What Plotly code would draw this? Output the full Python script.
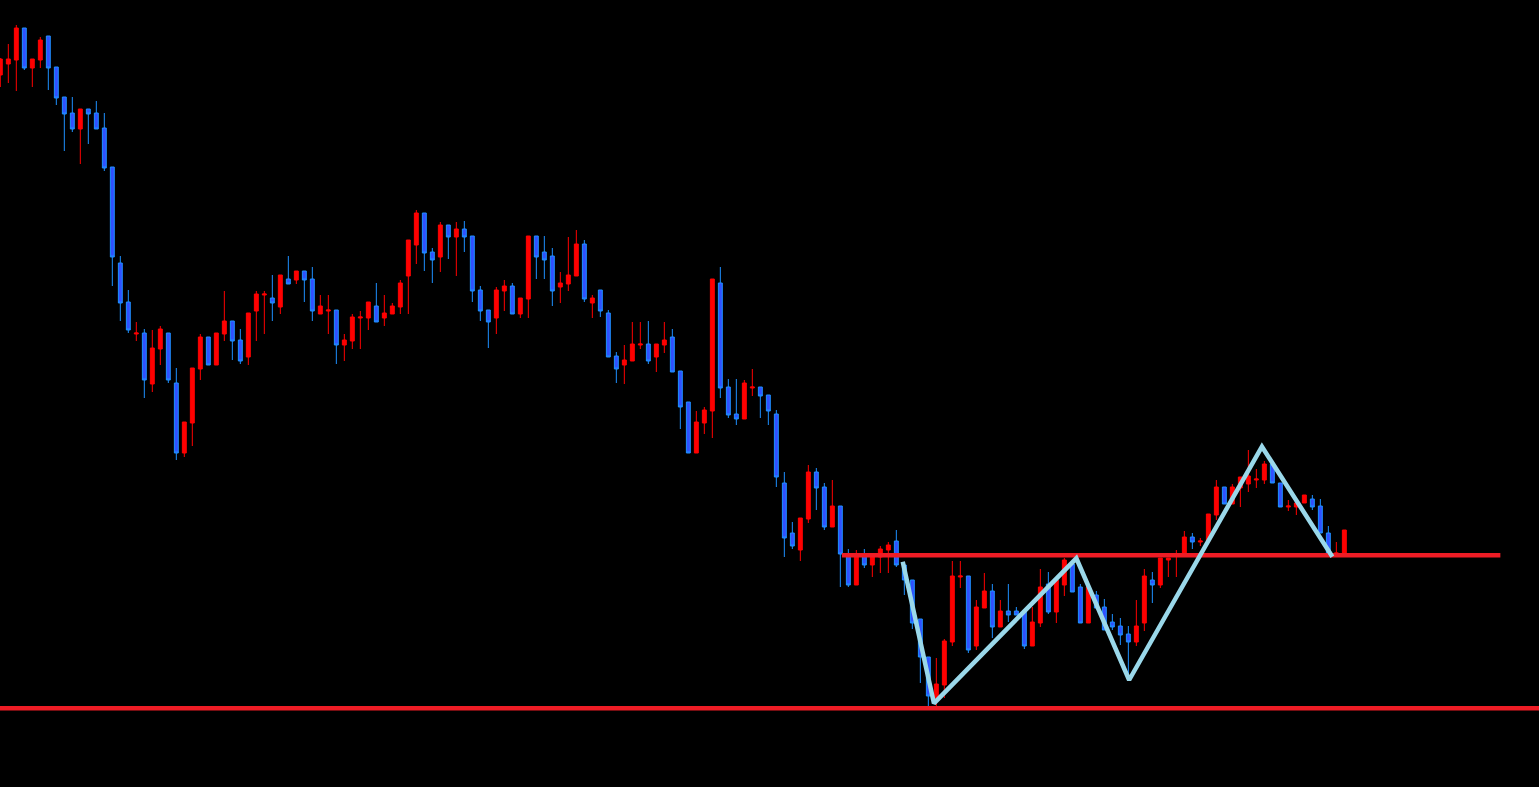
import plotly.graph_objects as go

# Candle data (index = bar number), prices in chart units
open_ = [725, 736, 740, 772, 732, 740, 764, 733, 703, 687, 671, 691, 687, 672, 633, 537, 498, 466, 467, 416,
         451, 467, 417, 347, 377, 431, 463, 435, 466, 479, 460, 443, 489, 505, 502, 493, 521, 520, 529, 521,
         486, 489, 490, 455, 459, 482, 482, 494, 482, 486, 493, 524, 555, 587, 548, 543, 575, 563, 571, 564,
         510, 490, 482, 509, 514, 486, 501, 564, 548, 544, 513, 516, 524, 556, 497, 510, 487, 444, 435, 439,
         455, 456, 443, 455, 463, 429, 398, 347, 377, 389, 517, 413, 386, 381, 412, 413, 405, 386, 317, 267,
         250, 281, 328, 313, 273, 294, 246, 215, 246, 235, 243, 250, 259, 235, 220, 181, 143, 102, 115, 158,
         223, 224, 154, 192, 209, 173, 189, 189, 189, 154, 177, 216, 188, 215, 236, 213, 177, 205, 193, 178,
         174, 166, 158, 177, 220, 215, 240, 244, 246, 263, 258, 259, 285, 313, 296, 312, 316, 320, 320, 336,
         317, 293, 293, 297, 301, 294, 267, 246, 246]
high = [742, 756, 775, 772, 741, 763, 764, 733, 703, 703, 691, 691, 699, 687, 633, 544, 510, 478, 471, 470,
        474, 467, 432, 378, 432, 466, 463, 467, 509, 479, 471, 487, 509, 509, 525, 525, 544, 529, 529, 533,
        505, 505, 490, 466, 486, 489, 498, 517, 505, 497, 520, 560, 590, 587, 552, 578, 575, 578, 579, 564,
        514, 490, 513, 520, 517, 502, 564, 564, 564, 552, 528, 563, 570, 560, 505, 510, 490, 448, 455, 478,
        478, 479, 456, 478, 471, 429, 398, 389, 393, 521, 533, 421, 421, 420, 431, 413, 405, 390, 328, 278,
        282, 335, 332, 317, 320, 294, 251, 250, 251, 243, 254, 258, 270, 235, 220, 181, 143, 142, 161, 239,
        239, 224, 200, 227, 216, 200, 216, 193, 189, 193, 231, 228, 220, 242, 236, 216, 213, 209, 201, 186,
        182, 174, 200, 231, 228, 242, 242, 250, 269, 267, 262, 286, 320, 313, 316, 323, 350, 331, 339, 340,
        317, 300, 297, 305, 305, 301, 274, 258, 270]
low = [713, 717, 709, 730, 713, 732, 710, 695, 649, 668, 636, 656, 671, 629, 514, 479, 467, 459, 402, 408,
       435, 417, 340, 343, 354, 420, 435, 435, 459, 440, 436, 435, 459, 466, 479, 486, 516, 516, 498, 479,
       486, 466, 436, 439, 451, 451, 470, 478, 474, 486, 486, 486, 536, 529, 517, 528, 541, 524, 548, 498,
       479, 452, 466, 489, 486, 482, 482, 521, 521, 494, 497, 509, 524, 498, 482, 483, 443, 417, 416, 439,
       451, 436, 428, 447, 428, 371, 347, 347, 366, 362, 402, 382, 375, 381, 404, 382, 375, 313, 243, 251,
       239, 277, 290, 270, 273, 213, 213, 215, 232, 223, 227, 227, 233, 205, 171, 117, 93, 93, 102, 154,
       212, 147, 150, 192, 162, 173, 178, 185, 151, 154, 173, 186, 177, 204, 208, 177, 177, 192, 170, 170,
       155, 123, 154, 169, 197, 212, 223, 223, 246, 251, 254, 259, 280, 296, 296, 293, 308, 312, 316, 317,
       293, 289, 285, 297, 290, 267, 246, 246, 246]
close = [741, 741, 772, 732, 741, 760, 732, 702, 686, 671, 691, 686, 671, 632, 543, 497, 470, 467, 420, 452,
         471, 420, 347, 378, 432, 463, 435, 467, 479, 459, 439, 487, 506, 506, 497, 525, 516, 529, 520, 489,
         494, 490, 455, 460, 483, 483, 498, 478, 487, 494, 517, 560, 587, 547, 540, 575, 563, 571, 563, 509,
         489, 478, 510, 514, 486, 502, 564, 543, 540, 509, 517, 525, 556, 501, 502, 489, 443, 431, 440, 456,
         456, 439, 456, 460, 428, 393, 347, 378, 390, 521, 412, 385, 381, 417, 413, 404, 389, 323, 262, 254,
         282, 328, 312, 273, 294, 246, 215, 245, 235, 243, 251, 255, 235, 220, 177, 143, 104, 116, 159, 224,
         224, 150, 193, 209, 173, 189, 185, 185, 154, 178, 213, 188, 220, 240, 208, 177, 213, 192, 170, 173,
         165, 158, 174, 224, 215, 242, 242, 245, 263, 258, 259, 286, 313, 296, 313, 323, 324, 321, 336, 317,
         293, 294, 297, 305, 293, 267, 246, 247, 270]
bars = list(range(len(open_)))

# Drawn lines
support_level = 91.7
neckline_level = 244.7
neckline_x = [105.2, 187.5]
zigzag_x = [112.8, 116.7, 134.5, 141.1, 157.7, 166.5]
zigzag_y = [238.3, 96.7, 241.7, 120.0, 353.3, 243.3]

fig = go.Figure()
fig.add_trace(go.Candlestick(
    x=bars, open=open_, high=high, low=low, close=close,
    increasing=dict(line=dict(color="#FF0000", width=1), fillcolor="#FF0000"),
    decreasing=dict(line=dict(color="#1E90FF", width=1), fillcolor="#3050FF"),
    whiskerwidth=0, hoverinfo="skip",
))
fig.add_trace(go.Scatter(x=[-5, 200], y=[support_level, support_level], mode="lines",
                         line=dict(color="#EE1C25", width=4.5), hoverinfo="skip"))
fig.add_trace(go.Scatter(x=neckline_x, y=[neckline_level, neckline_level], mode="lines",
                         line=dict(color="#EE1C25", width=4.5), hoverinfo="skip"))
fig.add_trace(go.Scatter(x=zigzag_x, y=zigzag_y, mode="lines",
                         line=dict(color="#9AD8EA", width=4.5), hoverinfo="skip"))

fig.update_layout(
    width=1539, height=787,
    margin=dict(l=0, r=0, t=0, b=0),
    paper_bgcolor="black", plot_bgcolor="black",
    showlegend=False,
    xaxis=dict(visible=False, range=[-0.04, 192.33], rangeslider=dict(visible=False)),
    yaxis=dict(visible=False, range=[13, 800]),
)
fig.write_html("out.html", config={"displayModeBar": False},
               post_script="document.body.style.margin='0';document.body.style.overflow='hidden';document.body.style.background='black';")
